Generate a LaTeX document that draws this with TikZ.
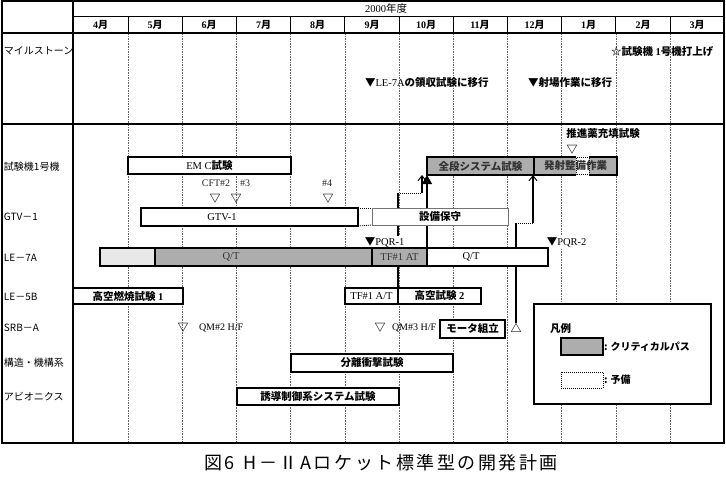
\documentclass[tikz,border=0pt]{standalone}
\usepackage{fontspec}
\setmainfont{Liberation Serif}
\newfontfamily\jp{Noto Sans CJK JP}
\newfontfamily\jpcap{Noto Sans CJK JP}[LetterSpace=14]
\usetikzlibrary{arrows.meta}
\pgfdeclarelayer{back}
\pgfdeclarelayer{bg}
\pgfsetlayers{back,bg,main}
\newcommand\J[1]{{\jp\bfseries #1}}
\newcommand\gbar[7]{%
  \pgfmathsetmacro\bw{#4-#2}\pgfmathsetmacro\bh{#5-#3}%
  \pgfmathsetmacro\bx{(#2+#4)/2}\pgfmathsetmacro\by{(#3+#5)/2}%
  \node[#6, minimum width=\bw pt, minimum height=\bh pt] (#1) at (\bx,\by) {#7};}
\begin{document}
\begin{tikzpicture}[x=1pt,y=-1pt,
  every node/.style={inner sep=0pt, outer sep=0pt},
  bartxt/.style={font=\fontsize{10.5}{12}\selectfont},
  wbar/.style={draw, line width=2pt, fill=white, bartxt},
  crit/.style={draw, line width=2pt, fill=black!32, bartxt, text=black!80},
  lightbar/.style={draw, line width=2pt, fill=black!9},
  thinbar/.style={draw=black!55, line width=1pt, fill=white, bartxt},
  resv/.style={draw, line width=0.7pt, dash pattern=on 1pt off 1pt, fill=white},
  lbl/.style={font=\jp\fontsize{10}{12}\selectfont, anchor=west},
  mon/.style={font=\fontsize{10}{12}\selectfont\bfseries},
  mile/.style={font=\fontsize{10.5}{12}\selectfont, anchor=west},
  smalltxt/.style={font=\fontsize{10}{12}\selectfont},
  tri/.style={font=\jp\bfseries\fontsize{11}{12}\selectfont},
  divline/.style={draw=black!60, line width=0.6pt, dash pattern=on 1.6pt off 1pt},
  frameline/.style={line width=2pt},
  conn/.style={line width=1.2pt},
  dotconn/.style={line width=0.8pt, dash pattern=on 1pt off 1pt},
  openhead/.style={-{Straight Barb[length=5pt,width=8pt,line width=1pt]}},
]
\useasboundingbox (0,0) rectangle (726,479);
\begin{pgfonlayer}{back}
\fill[white] (0,0) rectangle (726,479);
\foreach \x in {128,182.2,236.4,290.6,344.8,399,453.2,507.4,561.6,615.8,670}{
  \draw[divline] (\x,33) -- (\x,443);
  \draw[line width=0.8pt] (\x,16.5) -- (\x,33);
}
\end{pgfonlayer}
% frame
\draw[frameline] (2,1) rectangle (724,443);
\draw[frameline] (73,1) -- (73,443);
\draw[frameline] (2,33) -- (724,33);
\draw[frameline] (2,124) -- (724,124);
\draw[line width=1pt] (73,16.5) -- (724,16.5);
% header
\node[font=\fontsize{10.5}{12}\selectfont] (yr) at (386,8.5) {2000{\jp 年度}};
\foreach \c/\m [count=\i] in {100.5/4,155/5,209/6,263.5/7,317.7/8,372/9,426/10,480/11,534.5/12,588.7/1,643/2,697/3}
  \node[mon] (m\i) at (\c,25) {\m\J{月}};
% left labels
\node[lbl] (l1) at (4,51) {マイルストーン};
\node[lbl] (l2) at (4,167) {試験機1号機};
\node[lbl] (l3) at (4,217) {GTV－1};
\node[lbl] (l4) at (4,258) {LE－7A};
\node[lbl] (l5) at (4,297) {LE－5B};
\node[lbl] (l6) at (4,328) {SRB－A};
\node[lbl] (l7) at (4,363) {構造・機構系};
\node[lbl] (l8) at (4,397) {アビオニクス};
% milestones
\node[mile] (ms1) at (611,52) {\J{☆試験機} \textbf{1}\J{号機打上げ}};
\node[mile] (ms2) at (365,83) {\J{▼}LE-7A\J{の領収試験に移行}};
\node[mile] (ms3) at (528,83) {\J{▼射場作業に移行}};
% 試験機1号機
\gbar{emc}{128}{157}{291}{174}{wbar}{EM C\J{試験}}
\gbar{zendan}{427}{157}{534}{175}{crit}{\J{全段システム試験}}
\gbar{hassha}{534}{157}{617}{175}{crit}{}
\fill[white] (576,156) rectangle (589,176);
\draw[dotconn] (576,157.5) rectangle (589,174.5);
\node[bartxt, text=black!80] (hasshat) at (575.5,166) {\J{発射整備作業}};
\node[mile, anchor=center] (suishin) at (603,134) {\J{推進薬充填試験}};
\node[tri] (t0) at (572,150) {▽};
% CFT
\node[smalltxt, text=black!85] (cft2) at (216,183) {CFT\#2};
\node[smalltxt, text=black!85] (cft3) at (245,183) {\#3};
\node[smalltxt, text=black!85] (cft4) at (327,183) {\#4};
\node[tri] (t1) at (215,199) {▽};
\node[tri] (t2) at (236,199) {▽};
\node[tri] (t3) at (328,199) {▽};
% GTV-1
\gbar{gtv}{141}{208}{358}{226}{wbar}{}
\node[bartxt] (gtvt) at (222,217) {GTV-1};
\gbar{setsubi}{372}{208}{508}{225}{thinbar}{\J{設備保守}}
\draw[dotconn] (gtv.north east) -- (setsubi.north west);
\draw[dotconn] (gtv.south east) -- (setsubi.south west);
% PQR
\node[mile, fill=white, inner sep=0.8pt] (pqr1) at (364,242) {\J{▼}PQR-1};
\node[mile, fill=white, inner sep=0.8pt] (pqr2) at (546,242) {\J{▼}PQR-2};
% LE-7A
\gbar{le7a}{100}{248}{155}{266}{lightbar}{}
\gbar{le7b}{155}{248}{372}{266}{crit}{}
\node[bartxt, text=black!80] (qt1) at (231,257) {Q/T};
\gbar{le7c}{372}{248}{427}{266}{crit}{TF\#1 AT}
\gbar{le7d}{427}{248}{548}{266}{wbar}{}
\node[bartxt] (qt2) at (471,257) {Q/T};
% LE-5B
\gbar{kk1}{73}{288}{183}{304}{wbar}{\J{高空燃焼試験} \textbf{1}}
\gbar{tf1}{345}{288}{398}{304}{wbar}{TF\#1 A/T}
\gbar{kk2}{398}{288}{481}{304}{wbar}{\J{高空試験} \textbf{2}}
% SRB-A
\node[tri] (t4) at (183,328) {▽};
\node[smalltxt, anchor=west] (qm2) at (199,328) {QM\#2 H/F};
\node[tri] (t5) at (380,328) {▽};
\node[smalltxt, anchor=west] (qm3) at (392,328) {QM\#3 H/F};
\gbar{motor}{440}{320}{505}{338}{wbar}{\J{モータ組立}}
\node[tri] (t6) at (516,328) {△};
% 構造・機構系, アビオニクス
\gbar{bunri}{291}{354}{453}{372}{wbar}{\J{分離衝撃試験}}
\gbar{yudo}{237}{388}{399}{405}{wbar}{\J{誘導制御系システム試験}}
% legend
\gbar{legend}{534}{304}{711}{404}{draw, line width=1.5pt, fill=white}{}
\node[mile] (hanrei) at (550,329) {\J{凡例}};
\gbar{lgc}{561}{338}{603}{355}{crit}{}
\node[mile, font=\fontsize{10}{12}\selectfont] (lgct) at (604,347) {\J{: クリティカルパス}};
\gbar{lgr}{561}{372}{603}{388}{resv}{}
\node[mile, font=\fontsize{10}{12}\selectfont] (lgrt) at (604,380) {\J{: 予備}};
% caption
\node[font=\jpcap\fontsize{18}{20}\selectfont] (cap) at (381,463) {図6\hspace{0.5em}H－ⅡAロケット標準型の開発計画};
% connectors
\coordinate (j1) at (398,193);
\coordinate (j2) at (422,193);
\coordinate (j3) at (516,223);
\coordinate (j4) at (533,223);
\begin{pgfonlayer}{bg}
\draw[conn, -{Triangle[length=9pt,width=10pt]}] (le7c.north east) -- (zendan.south west);
\draw[conn] (tf1.north east) -- (j1);
\draw[dotconn] (j1) -- (j2);
\draw[conn, openhead] (j2) -- (j2 |- zendan.south);
\draw[conn] (t6.north) -- (j3);
\draw[dotconn] (j3) -- (j4);
\draw[conn, openhead] (j4) -- (j4 |- hassha.south);
\end{pgfonlayer}
\end{tikzpicture}
\end{document}
